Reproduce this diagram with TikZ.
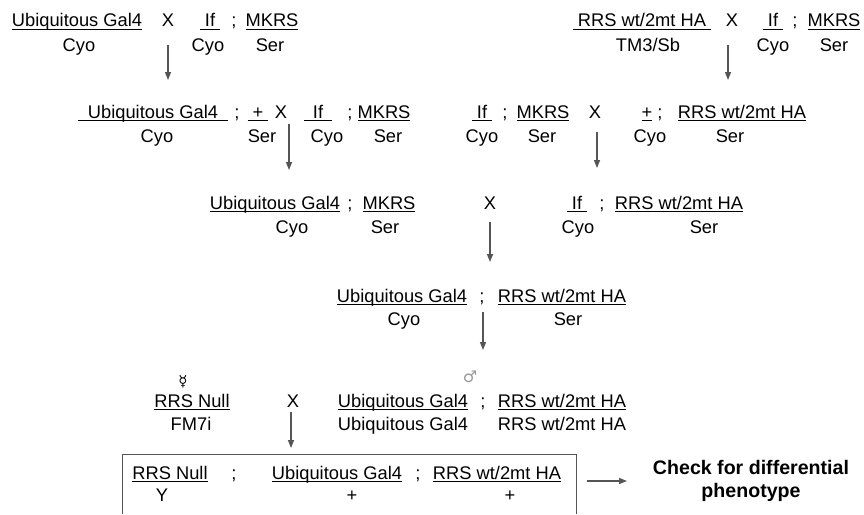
\documentclass[tikz,border=0pt]{standalone}
\usepackage{fontspec}
\setmainfont{Liberation Sans}
\newfontfamily\symfont{DejaVu Sans}
\usetikzlibrary{arrows.meta}
\newcommand\gfont{\fontsize{18.3}{22}\selectfont}
\newcommand\ulx[2]{%
  \setbox0\hbox{#2}%
  \dimen0=\wd0 \advance\dimen0 by 2\dimexpr#1\relax
  \hbox{\vrule height -1.6pt depth 2.9pt width \dimen0\kern-\dimen0\kern#1\box0\kern#1}}
\newcommand\ul[1]{\ulx{0pt}{#1}}
\definecolor{arrgray}{HTML}{555555}
\definecolor{boxgray}{HTML}{555555}
\definecolor{symgray}{HTML}{999999}
\begin{document}
\begin{tikzpicture}[x=1pt,y=-1pt,
  t/.style={inner sep=0pt, anchor=base, font=\gfont},
  arr/.style={draw=arrgray, line width=1.4pt, -{Triangle[length=8pt,width=6pt]}}]
\useasboundingbox (0,0) rectangle (864,514);
% ---- Row 1 left
\node[t] (r1a) at (77,27) {\ul{Ubiquitous Gal4}};
\node[t] (r1b) at (79,51) {Cyo};
\node[t] (r1x) at (168,27) {X};
\node[t] (r1c) at (210,27) {\ulx{5pt}{If}};
\node[t] (r1d) at (208,51) {Cyo};
\node[t] (r1s) at (234,27) {;};
\node[t] (r1e) at (272,27) {\ul{MKRS}};
\node[t] (r1f) at (270,51) {Ser};
% ---- Row 1 right
\node[t] (r1g) at (642,27) {\ulx{5pt}{RRS wt/2mt HA}};
\node[t] (r1h) at (648,51) {TM3/Sb};
\node[t] (r1y) at (732,27) {X};
\node[t] (r1i) at (773,27) {\ulx{5pt}{If}};
\node[t] (r1j) at (773,51) {Cyo};
\node[t] (r1t) at (795,27) {;};
\node[t] (r1k) at (834,27) {\ul{MKRS}};
\node[t] (r1l) at (834,51) {Ser};
% ---- Row 2 left
\node[t] (r2a) at (153,118) {\ulx{10pt}{Ubiquitous Gal4}};
\node[t] (r2b) at (157,142) {Cyo};
\node[t] (r2s) at (237,118) {;};
\node[t] (r2c) at (258,118) {\ulx{5pt}{+}};
\node[t] (r2d) at (262,142) {Ser};
\node[t] (r2x) at (281,118) {X};
\node[t] (r2e) at (318,118) {\ulx{9pt}{If}};
\node[t] (r2f) at (327,142) {Cyo};
\node[t] (r2t) at (350,118) {;};
\node[t] (r2g) at (384,118) {\ul{MKRS}};
\node[t] (r2h) at (388,142) {Ser};
% ---- Row 2 right
\node[t] (r2i) at (482,118) {\ulx{5pt}{If}};
\node[t] (r2j) at (482,142) {Cyo};
\node[t] (r2u) at (505,118) {;};
\node[t] (r2k) at (543,118) {\ul{MKRS}};
\node[t] (r2l) at (542,142) {Ser};
\node[t] (r2y) at (595,118) {X};
\node[t] (r2m) at (647,118) {\ul{+}};
\node[t] (r2v) at (660,118) {;};
\node[t] (r2n) at (650,142) {Cyo};
\node[t] (r2o) at (742,118) {\ul{RRS wt/2mt HA}};
\node[t] (r2p) at (730,142) {Ser};
% ---- Row 3
\node[t] (r3a) at (275,209) {\ul{Ubiquitous Gal4}};
\node[t] (r3b) at (292,233) {Cyo};
\node[t] (r3s) at (350,209) {;};
\node[t] (r3c) at (389,209) {\ul{MKRS}};
\node[t] (r3d) at (385,233) {Ser};
\node[t] (r3x) at (490,209) {X};
\node[t] (r3e) at (577,209) {\ulx{5pt}{If}};
\node[t] (r3f) at (578,233) {Cyo};
\node[t] (r3t) at (602,209) {;};
\node[t] (r3g) at (679,209) {\ul{RRS wt/2mt HA}};
\node[t] (r3h) at (704,233) {Ser};
% ---- Row 4
\node[t] (r4a) at (402,302) {\ul{Ubiquitous Gal4}};
\node[t] (r4b) at (404,325) {Cyo};
\node[t] (r4s) at (482,302) {;};
\node[t] (r4c) at (562,302) {\ul{RRS wt/2mt HA}};
\node[t] (r4d) at (568,325) {Ser};
% ---- Row 5
\node[t, font=\symfont\fontsize{15}{17}\selectfont] (fem) at (183,386) {☿};
\node[t] (r5a) at (192,407) {\ul{RRS Null}};
\node[t] (r5b) at (191,430) {FM7i};
\node[t] (r5x) at (293,407) {X};
\node[t, font=\symfont\fontsize{16}{18}\selectfont, text=symgray] (mal) at (470,382) {♂};
\node[t] (r5c) at (403,407) {\ul{Ubiquitous Gal4}};
\node[t] (r5s) at (483,407) {;};
\node[t] (r5d) at (562,407) {\ul{RRS wt/2mt HA}};
\node[t] (r5e) at (403,430) {Ubiquitous Gal4};
\node[t] (r5f) at (562,430) {RRS wt/2mt HA};
% ---- Row 6 (box)
\draw[boxgray, line width=1pt] (122,514) -- (122,454) -- (576,454) -- (576,514);
\node[t] (r6a) at (170,479) {\ul{RRS Null}};
\node[t] (r6b) at (162,501) {Y};
\node[t] (r6s) at (234,479) {;};
\node[t] (r6c) at (337,479) {\ul{Ubiquitous Gal4}};
\node[t] (r6d) at (352,501) {+};
\node[t] (r6t) at (418,479) {;};
\node[t] (r6e) at (497,479) {\ul{RRS wt/2mt HA}};
\node[t] (r6f) at (510,501) {+};
\node[t, font=\fontsize{19.6}{22}\selectfont\bfseries] (chk1) at (751,474) {Check for differential};
\node[t, font=\fontsize{19.6}{22}\selectfont\bfseries] (chk2) at (751,497) {phenotype};
% ---- Arrows
\coordinate (a1s) at (168,45); \coordinate (a1e) at (168,80);
\coordinate (a2s) at (728,45); \coordinate (a2e) at (728,80);
\coordinate (a3s) at (289,124); \coordinate (a3e) at (289,170);
\coordinate (a4s) at (597,132); \coordinate (a4e) at (597,168);
\coordinate (a5s) at (490,222); \coordinate (a5e) at (490,262);
\coordinate (a6s) at (483,312); \coordinate (a6e) at (483,350);
\coordinate (a7s) at (291,412); \coordinate (a7e) at (291,448);
\coordinate (a8s) at (587,481); \coordinate (a8e) at (627,481);
\foreach \i in {1,...,8} {\draw[arr] (a\i s) -- (a\i e);}
\end{tikzpicture}
\end{document}
